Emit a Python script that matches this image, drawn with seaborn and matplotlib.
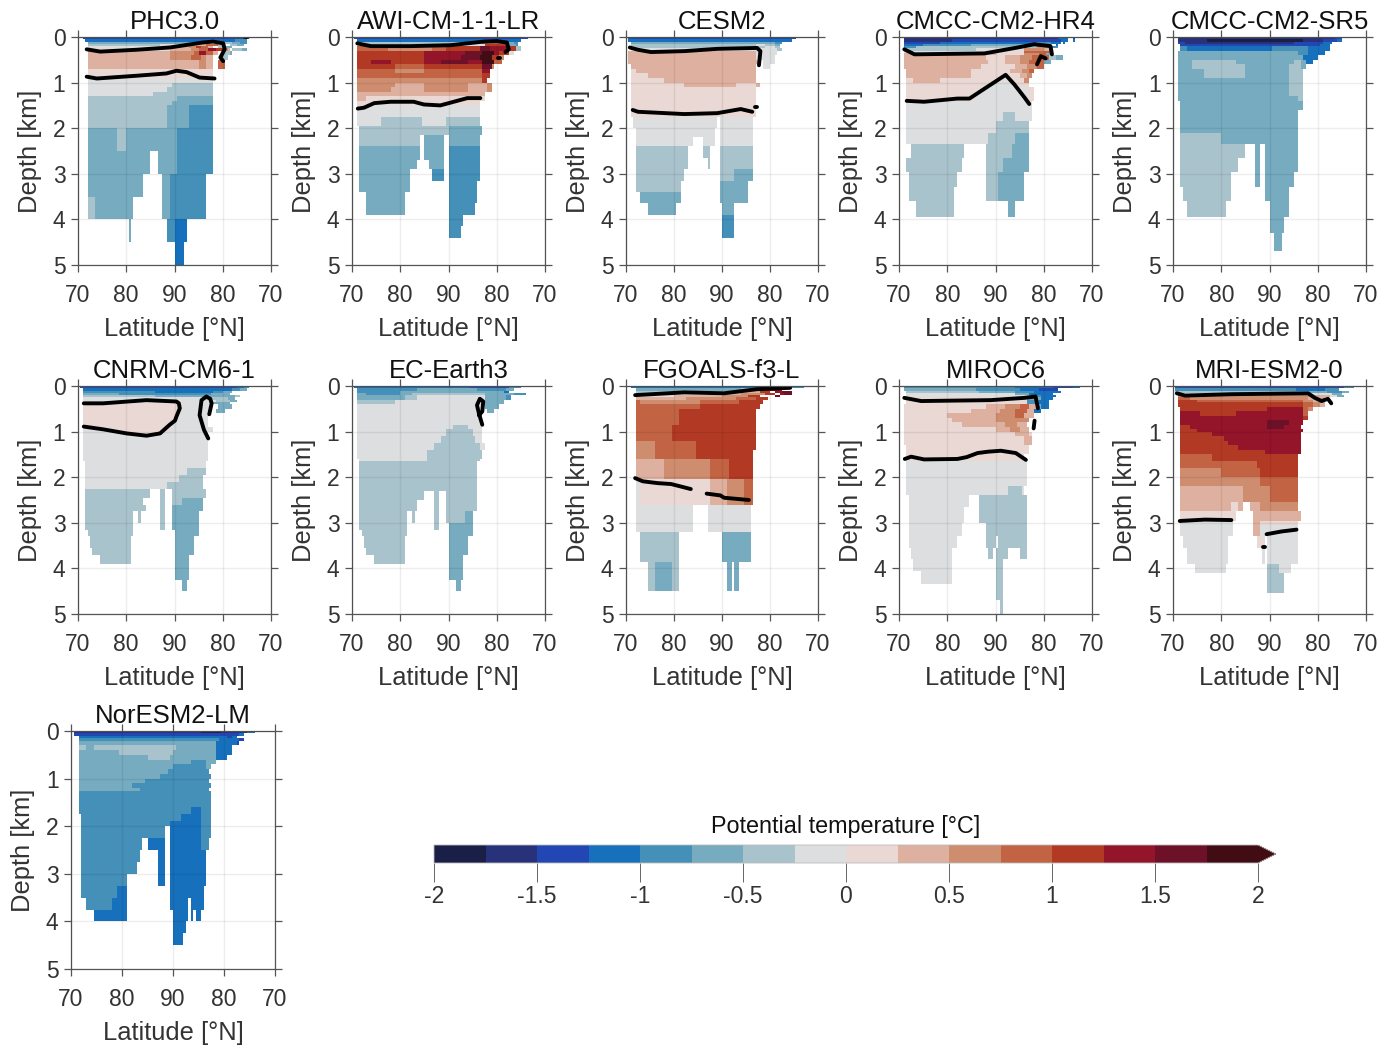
import re
import numpy as np
import pandas as pd
import matplotlib
matplotlib.use("Agg")
import matplotlib.pyplot as plt
import seaborn as sns
from matplotlib.colors import ListedColormap, BoundaryNorm
from matplotlib.cm import ScalarMappable

# temperature classes a..p, 0.25 degC wide, -2 to 2
levels = np.arange(-2, 2.01, 0.25)
class_colors = ["#1a1f48", "#27327a", "#2247b4", "#1770bb", "#4490b8", "#76abc0", "#a9c3cc", "#dcdee0",
                "#e9d8d3", "#deb0a0", "#cf8d70", "#c26444", "#b23a25", "#941429", "#6d1129", "#420c15"]
class_letters = "abcdefghijklmnop"
cbar_ticks = [-2, -1.5, -1, -0.5, 0, 0.5, 1, 1.5, 2]
cbar_labels = ["-2", "-1.5", "-1", "-0.5", "0", "0.5", "1", "1.5", "2"]
lat_labels = ["70", "80", "90", "80", "70"]
depth_labels = ["0", "1", "2", "3", "4", "5"]

# each row: bottom depth of the layer [km], then run lengths along the section (half degree cells)
phc_rows = [(0.05, "2.68c"), (0.10, "3.62d 5e"), (0.15, "4.50f 6h 4g 3f 3e"), (0.20, "4.30g 8h 11j 5l 3j 2. 3g 3f"),
            (0.25, "4.34h 8j 3k 2m 3l 2j 2. 3g 3f"), (0.30, "4.34i 9j 3k 4l 3n 3m 2k 1j 1. 4g 2f"),
            (0.40, "4.34j 10k 2l 3n 3l 2j 2. 3g 1f"), (0.50, "4.34j 9k 4l 2k 3j 3. 3g"),
            (0.60, "4.46j 3k 3j 2. 3l"), (0.70, "4.46j 3k 3j 2. 3l"), (0.90, "4.52i"), (1.00, "4.52h"),
            (1.10, "4.35h 17g"), (1.20, "4.33h 19g"), (1.30, "4.27h 25g"), (1.40, "4.37g 15f"), (1.50, "4.35g 17f"),
            (1.75, "4.33g 9f 10e"), (2.00, "4.33g 9f 10e"), (2.50, "4.12f 4g 21f 15e"), (3.00, "4.26f 3. 8f 15e"),
            (3.50, "4.23f 8. 3f 15e"), (4.00, "4.3g 16f 12. 3f 15e"), (4.50, "21.1f 15.3e 5d"), (5.00, "40.4d")]
awi_rows = [(0.05, "1.72c"), (0.10, "2.68d"), (0.15, "2.52g 10l 3f 2e"), (0.20, "2.53h 10m 3f 1e"),
            (0.30, "2.13l 18k 6l 14m 4o 8n 3m 2g"), (0.40, "2.28m 17n 7o 5p 2n 4m 2h"),
            (0.50, "2.28m 15n 8o 5p 3m 2k"), (0.60, "2.6m 8n 14m 7n 11o 6n 5p 3l"), (0.70, "2.16m 12l 24m 4o 1k"),
            (0.80, "2.16l 12k 24l 3n"), (0.90, "2.52l 3m"), (1.00, "2.52k 2m"), (1.10, "2.16k 12j 18k 8j 2k"),
            (1.20, "2.14k 14j 18k 8j 2k"), (1.30, "2.53j"), (1.40, "2.4j 49i"), (1.50, "2.51i"), (1.60, "2.51h"),
            (1.75, "2.51h"), (1.95, "2.10h 17g 10h 14g"), (2.15, "3.37g 14f"), (2.40, "3.25g 2.8f 2.13f"),
            (2.70, "3.25f 2.8f 2.13e"), (2.90, "3.24f 5.6f 2.13e"), (3.15, "3.21f 9.5e 2.13e"), (3.40, "3.21f 16.12e"),
            (3.65, "6.16f 18.12e"), (3.90, "6.16f 18.11e"), (4.15, "40.6e"), (4.40, "40.5e")]
cesm_rows = [(0.05, "1.70c"), (0.10, "1.68d"), (0.15, "2.56f 4f 3e"), (0.20, "2.52g 4h 4g 2f"), (0.25, "3.50g 5g 4h 2g"),
             (0.30, "2.55h 6h 2g"), (0.40, "1.53j 9h"), (0.50, "1.53j 8h"), (0.60, "1.54j 2.5h"), (0.70, "2.52j 3.3h"),
             (0.80, "2.2i 50j"), (0.90, "2.7i 45j"), (1.00, "2.14i 38j"), (1.10, "2.22i 22j 8i 2j"), (1.75, "2.52i"),
             (2.00, "3.35h 1.14h"), (2.20, "4.33h 2.14h"), (2.40, "4.24h 4.5h 2.14h"), (2.65, "4.22g 6.3g 4.14g"),
             (2.90, "4.22g 8.1g 4.14g"), (3.15, "4.20g 15.6g 8f"), (3.40, "4.19g 16.12f"), (3.65, "6.17f 16.12f"),
             (3.90, "9.12f 19.5f"), (4.40, "40.5e")]
hr4_rows = [(0.05, "2.64b 4d 2.1c"), (0.10, "2.20b 45c 3d 2.1d"), (0.15, "2.15c 40d 6e 4d 1.1d"), (0.20, "2.8d 20e 25f 6f 2d 2.1d"),
            (0.25, "2.5e 50g 6k 3e"), (0.30, "2.30g 20h 8k 2j 2e"), (0.35, "2.30h 20i 8l 3l 1f"),
            (0.40, "2.38j 12i 6k 3l 2f"), (0.50, "2.34j 8i 6j 5k 7l 3g 3f"), (0.60, "2.35j 7i 6j 4k 6l 3f"),
            (0.70, "2.32j 14i 5j 4k 3l"), (0.80, "3.27j 16i 5j 3k 2l"), (0.90, "3.27j 12i 2h 6i 3j 2k"),
            (1.00, "3.3i 11j 26i 2h 7i 2k"), (1.10, "3.33i 12h 6i"), (1.25, "3.30i 20h 3i"), (1.40, "3.29i 22h 2i"),
            (1.65, "3.52h"), (1.85, "3.40h 5g 7h"), (2.10, "3.37h 14g"), (2.35, "3.34h 11g 6f"),
            (2.65, "5.22g 9.11g 7f"), (2.95, "3.23g 10.7g 11f"), (3.30, "4.20g 12.5g 11f"), (3.60, "4.19g 13.5g 11f"),
            (3.95, "7.16g 22.3f")]
sr5_rows = [(0.05, "2.65b 3c"), (0.10, "2.12b 40a 8b 6c 2d"), (0.15, "2.3c 45b 6c 6c 4d"), (0.20, "3.50c 8c 4d"),
            (0.30, "3.3e 35d 15e 9d"), (0.40, "2.50f 4e 7d"), (0.50, "2.52f 6d"), (0.60, "2.6f 18g 24f 3g 2f 3d"),
            (0.70, "2.6f 22g 18f 5g 2f"), (0.90, "2.11f 17g 18f 6g"), (1.30, "2.46f 6g"), (1.40, "2.50f 2g"), (1.60, "3.51f"),
            (2.10, "3.49f"), (2.35, "3.17g 32f"), (2.65, "3.27g 4.2f 2.14f"), (2.95, "3.24g 7.2f 2.14f"),
            (3.30, "3.21g 10.2f 2.12f"), (3.60, "4.20g 14.10f"), (3.95, "6.16g 18.8f"), (4.30, "40.6f"), (4.70, "42.3f")]
cnrm_rows = [(0.05, "1.65c 3d 2e"), (0.10, "2.62d 3e 3f"), (0.15, "2.30e 24d 4e 4f"), (0.20, "2.15f 30e 8e 3f 5f"),
             (0.25, "2.30g 24f 3f 6f 2g"), (0.30, "2.50h 10g 3f"), (0.35, "2.24h 18i 10h 3h 6g 3f"), (0.40, "2.40i 13h 8f"),
             (0.50, "2.40i 13h 3.6f"), (0.60, "2.40i 13h 2.4f"), (0.80, "2.38i 14h"), (0.90, "2.35i 17h"),
             (1.00, "2.12h 24i 18h"), (1.10, "2.18h 14i 20h"), (1.65, "2.52h"), (1.80, "3.50h"), (1.95, "3.42h 8g"),
             (2.10, "3.39h 10g"), (2.25, "3.34h 15g"), (2.45, "3.27g 4.2g 3.14g"), (2.60, "3.24g 7.2g 3.4g 9f"),
             (2.75, "3.25g 6.2g 3.13f"), (3.00, "3.20g 2.1g 8.2g 3.11f"), (3.15, "3.20g 11.2g 3.11f"), (3.30, "4.19g 17.10f"),
             (3.55, "5.17g 18.8f"), (3.70, "6.16g 18.8f"), (3.90, "9.13g 18.6f"), (4.25, "40.6f"), (4.50, "43.2f")]
ec_rows = [(0.05, "1.48d 16c 5e"), (0.10, "2.25e 25f 12e 3f"), (0.15, "2.18e 32f 7f 4f 2d"), (0.20, "2.4f 14e 5f 30g 12f 5e"),
           (0.30, "2.20f 5g 28h 9f 2e"), (0.40, "2.16g 36h 1.8f"), (0.50, "2.52h 1.6f"), (0.60, "2.52h 2.3f"), (0.85, "2.52h"),
           (0.95, "2.40h 6g 6h"), (1.10, "2.37h 11g 4h"), (1.25, "2.35h 14g 3h"), (1.40, "2.32h 19g 2h"), (1.60, "2.29h 23g"),
           (1.65, "3.28h 22g"), (2.30, "3.49g"), (2.50, "3.27g 4.2g 3.13g"), (2.75, "3.24g 7.2g 3.13g"),
           (3.00, "3.20g 2.1g 8.2g 3.8g 3f"), (3.15, "3.20g 11.2g 4.10f"), (3.30, "4.19g 17.10f"), (3.55, "5.17g 18.8f"),
           (3.70, "6.16g 18.8f"), (3.90, "9.13g 18.6f"), (4.25, "40.6f"), (4.50, "43.2f")]
fgoals_rows = [(0.05, "2.52d 10c 10e"), (0.10, "4.44f 6g 6m 5n"), (0.15, "4.40g 12j 4m 2.3n 4o"), (0.20, "4.38h 6j 6k 4k 4m 2.2n 3o"),
               (0.25, "4.16i 20j 11k 5m 6.2o"), (0.30, "4.21j 21k 8l 5m"), (0.40, "4.2l 25k 16l 10m"), (0.50, "4.27l 25m"),
               (0.65, "4.18l 32m"), (0.85, "4.18l 32m"), (1.20, "4.15l 35m"), (1.40, "4.8k 17l 25m"), (1.60, "4.8k 17l 24m"),
               (2.05, "4.12j 19k 8l 10m"), (2.60, "4.2h 29i 7j 7k 4l"), (3.20, "4.24h 6.18h"), (3.85, "6.16g 18.12f"),
               (4.50, "9.3g 7f 3g 20.2f 1.2f")]
miroc_rows = [(0.05, "2.46e 16d 8c 3d"), (0.10, "2.30f 18e 8d 8c"), (0.15, "3.30g 15f 8e 8d 3d"), (0.20, "3.45h 6f 10d"),
              (0.25, "3.50h 3g 3e 6d"), (0.30, "3.50i 6f 5d"), (0.40, "3.50i 5e 4d"), (0.50, "2.34i 8j 6k 4l 3j 2f 3d"),
              (0.60, "2.28i 12j 6k 5l 3j 3d"), (0.70, "2.18i 20j 8k 4l 4j"), (0.80, "2.20i 18j 8k 6k"), (0.90, "2.24i 18j 5k 4j"),
              (1.00, "2.38i 6j 4k 4j"), (1.10, "2.46i 6j 1i"), (1.30, "2.50i 3j"), (1.50, "3.51i"), (1.65, "3.49i"), (2.20, "3.50h"),
              (2.40, "3.42h 6g 1h"), (2.65, "4.25h 4.20g"), (3.00, "4.23h 6.20g"), (3.30, "4.22h 10.17g"),
              (3.55, "4.20h 12.4g 1.12g"), (3.80, "5.17h 15.2g 1.5g 5.3g"), (4.05, "6.16h 18.3g"), (4.35, "9.13h 18.3g"),
              (4.70, "40.3g"), (5.00, "42.1g")]
mri_rows = [(0.05, "1.70c 4e"), (0.10, "1.50e 12d 6e"), (0.15, "1.55g 8f 6e 3f"), (0.20, "1.55h 10h 4f"), (0.25, "2.55k 8j 3h 3f"),
            (0.30, "2.5l 49k 3j 4j"), (0.35, "2.8m 44l 4k 4j"), (0.45, "2.52m 4l 3k 2j"), (0.55, "3.36m 15n 2l 2k"),
            (0.65, "3.8n 15m 28n 2l"), (0.75, "3.51n 2m"), (0.85, "3.36n 9o 6n"), (0.95, "3.4m 32n 7o 7n"), (1.00, "3.7m 44n"),
            (1.10, "3.13m 37n"), (1.20, "3.18m 32n"), (1.30, "3.20m 30n"), (1.40, "3.24m 26n"), (1.50, "3.35m 15n"),
            (1.65, "3.13l 36m"), (1.80, "3.32l 17m"), (2.00, "3.17k 16l 16m"), (2.20, "3.33k 16l"), (2.55, "3.26j 11k 12l"),
            (2.75, "3.21j 3i 2j 3.4j 16k"), (2.95, "3.23i 7.20j"), (3.05, "3.22h 8.3j 16i"), (3.30, "3.22h 8.3j 16h"),
            (3.55, "4.19h 12.3i 1.13h"), (3.90, "6.17h 14.1h 1.13h"), (4.10, "9.13h 17.5g 5h"), (4.55, "39.7g")]
noresm_rows = [(0.05, "1.50b 8a 10b 3d"), (0.10, "1.60c 5c 2d"), (0.15, "3.58d 2c 2d"), (0.20, "3.55e 8d 2c"), (0.30, "3.54f 8d 1c"),
               (0.40, "3.3g 3f 32g 16f 6d"), (0.50, "3.16f 21g 17f 6d"), (0.60, "3.27f 9g 18f 4d"), (0.70, "3.44f 6e 4f"),
               (0.80, "3.37f 13e 2f"), (0.90, "3.35f 16e"), (1.00, "3.32f 20e"), (1.10, "3.26f 25e"), (1.20, "3.21f 31e"),
               (1.25, "3.24f 27e"), (1.60, "3.52e"), (1.75, "3.44e 4d 4e"), (1.90, "4.39e 8d 4e"), (2.00, "4.35e 12d 4e"),
               (2.25, "4.33e 2.12d 4e"), (2.50, "4.24e 2.7d 2.12d 3e"), (2.75, "4.23e 7.3d 2.14d"), (3.00, "4.22e 8.3d 2.14d"),
               (3.25, "4.18e 12.3d 2.14d"), (3.50, "4.14e 4d 17.13d"), (3.75, "6.10e 6d 17.7d 1.5d"),
               (4.00, "9.13d 18.6d 1.1d 1.2d"), (4.25, "40.5d"), (4.50, "40.4d")]

# black contours: (position along the section in degrees from the left edge, depth in km)
phc_lines = [([1.8, 4.6, 12.1, 19, 25.9, 28, 30.1, 30.4, 29.5, 30.1], [.27, .32, .28, .23, .12, .10, .14, .27, .45, .53]),
             ([1.8, 3.9, 12.1, 18.3, 20.4, 22.5, 25.2, 28.3], [.87, .91, .85, .80, .74, .77, .89, .91]),
             ([34.6, 35.2], [.01, .01])]
awi_lines = [([1.1, 3.9, 12.1, 20.4, 27.3, 30, 32.1, 32.5, 31.8], [.14, .20, .20, .18, .10, .09, .12, .27, .33]),
             ([30.2, 30.6], [.47, .47]),
             ([1.2, 2.5, 4.6, 8, 12.8, 14.9, 18.3, 21.8, 23.9, 26.6], [1.57, 1.55, 1.45, 1.42, 1.42, 1.48, 1.50, 1.40, 1.34, 1.34])]
cesm_lines = [([.8, 2.5, 5.2, 12.1, 19, 27.3, 28, 27.7], [.23, .28, .33, .31, .26, .24, .31, .62]),
              ([1.4, 2.5, 12.1, 19, 23.9, 26.3], [1.60, 1.64, 1.69, 1.67, 1.58, 1.64]),
              ([26.9, 27.2], [1.53, 1.53])]
hr4_lines = [([1.1, 3.2, 17.7, 24.6, 28, 31.4, 31.7], [.27, .38, .36, .23, .16, .20, .38]),
             ([28.6, 29.4, 30.4], [.60, .42, .47]),
             ([1.6, 5.2, 12.1, 14.6, 22.1, 23.9, 25.9, 27], [1.40, 1.42, 1.35, 1.35, .83, 1.04, 1.31, 1.47])]
cnrm_lines = [([1.2, 5.2, 14.2, 20.4, 20.9, 21.1, 20.4, 20.1, 19, 17, 14.2, 10.1, 5.2, 1.2],
               [.38, .38, .31, .34, .38, .49, .67, .76, .85, 1.04, 1.09, 1.04, .95, .89]),
              ([27.2, 27.7, 27.4, 26.6, 25.6, 25.2, 26.1, 27], [.62, .38, .28, .23, .31, .64, .96, 1.15])]
ec_lines = [([27, 26.3, 25.9, 26.5, 27.2, 27, 26.3], [.85, .60, .42, .28, .34, .56, .64])]
fgoals_lines = [([1.9, 12.1, 20.4, 27.3, 34.2], [.20, .14, .16, .07, .04]),
                ([1.9, 3.5, 6.6, 9.4, 13.5], [2.02, 2.09, 2.13, 2.15, 2.26]),
                ([16.8, 19.7, 20.4, 25.6], [2.36, 2.40, 2.45, 2.50])]
miroc_lines = [([1.1, 4.6, 19, 26, 28.3, 28.8], [.26, .33, .31, .26, .23, .49]),
               ([28.1, 27.9], [.76, .93]),
               ([1.2, 2.5, 5.2, 12.1, 14, 16.3, 18.5, 21.1, 24.2, 26.3], [1.60, 1.55, 1.61, 1.60, 1.56, 1.47, 1.44, 1.42, 1.47, 1.62])]
mri_lines = [([.8, 2.5, 12.1, 28, 29.4, 30.8, 32.1, 32.8], [.16, .21, .18, .16, .26, .33, .28, .38]),
             ([1.4, 6.6, 12.1], [2.96, 2.93, 2.94]),
             ([19.4, 22.5, 25.6], [3.25, 3.19, 3.15]),
             ([18.6, 19], [3.53, 3.53])]

model_names = ["PHC3.0", "AWI-CM-1-1-LR", "CESM2", "CMCC-CM2-HR4", "CMCC-CM2-SR5", "CNRM-CM6-1",
               "EC-Earth3", "FGOALS-f3-L", "MIROC6", "MRI-ESM2-0", "NorESM2-LM"]
model_rows = [phc_rows, awi_rows, cesm_rows, hr4_rows, sr5_rows, cnrm_rows, ec_rows, fgoals_rows, miroc_rows, mri_rows, noresm_rows]
model_lines = [phc_lines, awi_lines, cesm_lines, hr4_lines, [], cnrm_lines, ec_lines, fgoals_lines, miroc_lines, mri_lines, []]

N_COLS, N_ROWS = 80, 100
W, H = 1390, 1049

def px_rect(l, t, r, b):
    return [l / W, 1 - b / H, (r - l) / W, (b - t) / H]

def build_section(rows):
    centers = levels[:-1] + 0.125
    out = np.full((N_ROWS, N_COLS), np.nan)
    top = 0
    for bottom, runs in rows:
        end = int(round(bottom / 0.05))
        line, pos = np.full(N_COLS, np.nan), 0
        for count, ch in re.findall(r"(\d+)\s*([a-p.])", runs):
            count = int(count)
            if ch != ".":
                line[pos:pos + count] = centers[class_letters.index(ch)]
            pos += count
        out[top:end] = line
        top = end
    return pd.DataFrame(out)

sns.set_theme(style="white")
plt.rcParams["font.family"] = ["Liberation Sans", "DejaVu Sans"]

cmap = ListedColormap(class_colors).with_extremes(over=class_colors[-1])
norm = BoundaryNorm(levels, 16)

fig = plt.figure(figsize=(W / 100, H / 100), dpi=100)
lefts = [(78, 271), (352, 545), (626, 818), (899, 1092), (1173, 1366)]
boxes = [(l, 37, r, 265) for l, r in lefts] + [(l, 386, r, 614) for l, r in lefts] + [(71, 731, 275, 969)]

for name, rows, lines, box in zip(model_names, model_rows, model_lines, boxes):
    ax = fig.add_axes(px_rect(*box))
    sns.heatmap(build_section(rows), ax=ax, cmap=cmap, norm=norm, cbar=False, xticklabels=False, yticklabels=False)
    for s, d in lines:
        sns.lineplot(x=np.array(s) * 2, y=np.array(d) / 0.05, ax=ax, sort=False, estimator=None, color="black",
                     linewidth=2.8, solid_joinstyle="round", solid_capstyle="round")
    ax.set_xlim(0, N_COLS)
    ax.set_ylim(N_ROWS, 0)
    ax.set_xticks(np.arange(0, N_COLS + 1, 20), lat_labels)
    ax.set_yticks(np.arange(0, N_ROWS + 1, 20), depth_labels, rotation=0)
    ax.tick_params(direction="out", length=5, width=0.9, color="#555555", top=True, right=True, left=True, bottom=True,
                   labelsize=16.5, labelcolor="#333333")
    ax.tick_params(axis="x", pad=9)
    ax.tick_params(axis="y", pad=4)
    ax.grid(True, color="black", alpha=0.07, linewidth=1)
    ax.set_axisbelow(False)
    for sp in ax.spines.values():
        sp.set_visible(True)
        sp.set_color("#555555")
        sp.set_linewidth(0.9)
    ax.set_title(name, fontsize=18.5, pad=6, color="#111111")
    ax.set_xlabel("Latitude [°N]", fontsize=18.4, labelpad=7, color="#333333", visible=True)
    ax.set_ylabel("Depth [km]", fontsize=18.4, labelpad=7.5, color="#333333", visible=True)

cax = fig.add_axes(px_rect(434, 845, 1276, 863))
cbar = fig.colorbar(ScalarMappable(norm=norm, cmap=cmap), cax=cax, orientation="horizontal", extend="max",
                    extendfrac=18 / 824, ticks=cbar_ticks, spacing="proportional")
cbar.ax.set_xticklabels(cbar_labels)
cbar.minorticks_off()
cbar.outline.set_edgecolor("#bbbbbb")
cbar.outline.set_linewidth(0.6)
cbar.ax.tick_params(axis="x", direction="out", length=14, width=0.7, color="#666666", labelsize=16.5, labelcolor="#333333", pad=1.5, bottom=True)
fig.text(846 / W, 1 - 826 / H, "Potential temperature [°C]", fontsize=16.8, color="#111111", ha="center", va="center")

fig.savefig("out.png", dpi=100)
